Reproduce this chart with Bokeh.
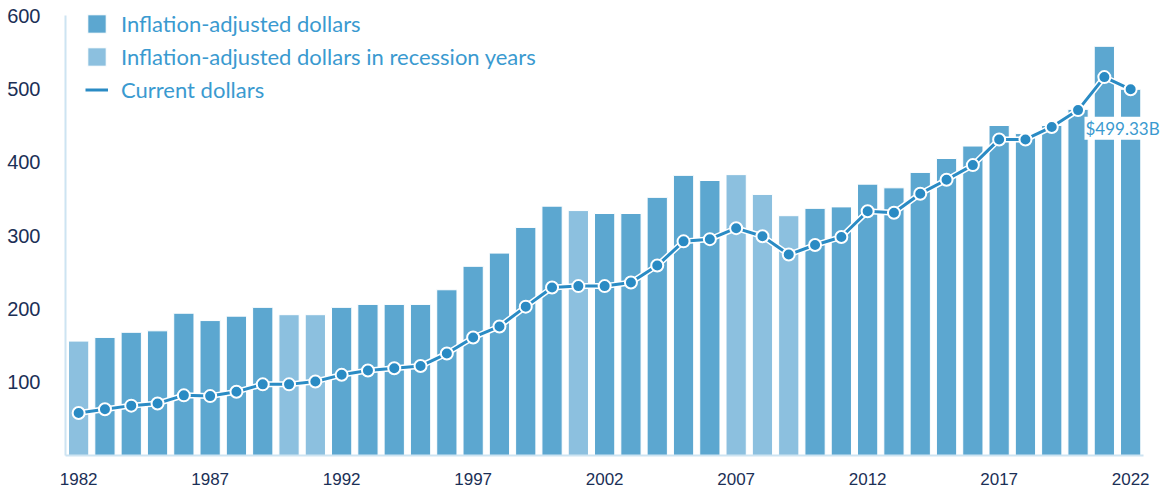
from bokeh.plotting import figure
from bokeh.models import (ColumnDataSource, FixedTicker, Legend, LegendItem, Label, Range1d)
from bokeh.embed import file_html
from bokeh.resources import INLINE

# ---- data (billions of dollars) ----
years = list(range(1982, 2023))
adjusted = [156, 161, 168, 170, 194, 184, 190, 202, 192, 192,
            202, 206, 206, 206, 226, 258, 276, 311, 340, 334,
            330, 330, 352, 382, 375, 383, 356, 327, 337, 339,
            370, 365, 386, 405, 422, 450, 439, 450, 472, 558,
            499.33]
current = [58, 63, 68, 71, 82, 81, 87, 97, 97, 101,
           110, 116, 119, 122, 139, 161, 176, 203, 229, 231,
           231, 236, 259, 292, 295, 310, 299, 274, 287, 298,
           333, 331, 357, 376, 396, 431, 431, 448, 471, 516,
           499.33]
recession_years = [1982, 1990, 1991, 2001, 2007, 2008, 2009]
x_ticks = [1982, 1987, 1992, 1997, 2002, 2007, 2012, 2017, 2022]
y_ticks = [100, 200, 300, 400, 500, 600]
annotation_text = "$499.33B"

DARK = "#5CA7D0"
LIGHT = "#8CC0DF"
LINE = "#2A8BC4"
TEXT_BLUE = "#3A9AD0"
NAVY = "#1B2F56"
AXIS = "#CDE4F2"

normal = {"x": [], "top": []}
recess = {"x": [], "top": []}
for y, v in zip(years, adjusted):
    d = recess if y in recession_years else normal
    d["x"].append(y)
    d["top"].append(v)

W, H = 1161, 488
LEFT, BOTTOM = 65, 33
px_per_year = 26.3
x_end = 1981.5 + (W - LEFT) / px_per_year
frame_h = H - BOTTOM
px_per_unit = 440 / 600.0
y_end = frame_h / px_per_unit

p = figure(width=W, height=H, output_backend="svg", toolbar_location=None,
           x_range=Range1d(1981.5, x_end), y_range=Range1d(0, y_end),
           min_border_left=LEFT, min_border_right=0, min_border_top=0,
           min_border_bottom=BOTTOM)
p.outline_line_color = None
p.background_fill_color = "white"
p.border_fill_color = "white"
p.xgrid.grid_line_color = None
p.ygrid.grid_line_color = None

r_norm = p.vbar(x="x", top="top", width=0.77, bottom=0, source=ColumnDataSource(normal),
                fill_color=DARK, line_color="white", line_width=1)
r_rec = p.vbar(x="x", top="top", width=0.77, bottom=0, source=ColumnDataSource(recess),
               fill_color=LIGHT, line_color="white", line_width=1)

src = ColumnDataSource({"x": years, "y": current})
p.line("x", "y", source=src, line_color="white", line_width=6)
r_line = p.line("x", "y", source=src, line_color=LINE, line_width=3)
p.scatter("x", "y", source=src, size=12, fill_color=LINE, line_color="white", line_width=2)

lab = Label(x=years[-1], y=current[-1], x_offset=30, y_offset=-39, text=annotation_text,
            text_align="right", text_baseline="middle", text_font="Lato",
            text_font_size="17px", text_color=TEXT_BLUE,
            background_fill_color="white", padding=1)
p.add_layout(lab)

for ax in (p.xaxis[0], p.yaxis[0]):
    ax.axis_line_color = AXIS
    ax.axis_line_width = 2
    ax.major_tick_line_color = None
    ax.minor_tick_line_color = None
    ax.major_label_text_color = NAVY
    ax.major_label_text_font = "Liberation Sans"

p.xaxis[0].ticker = FixedTicker(ticks=x_ticks)
p.xaxis[0].bounds = (1981.5, 2022.5)
p.xaxis[0].major_label_text_font_size = "17px"
p.xaxis[0].major_label_standoff = 11
p.yaxis[0].ticker = FixedTicker(ticks=y_ticks)
p.yaxis[0].bounds = (0, 600)
p.yaxis[0].major_label_text_font_size = "20px"
p.yaxis[0].major_label_standoff = 19

legend = Legend(items=[
    LegendItem(label="Inflation-adjusted dollars", renderers=[r_norm]),
    LegendItem(label="Inflation-adjusted dollars in recession years", renderers=[r_rec]),
    LegendItem(label="Current dollars", renderers=[r_line]),
], location=(20, 352), margin=0, padding=0, spacing=6,
    glyph_width=23, glyph_height=23, label_height=26, label_standoff=13,
    label_text_font="Lato", label_text_font_size="22px", label_text_color=TEXT_BLUE,
    border_line_color=None, background_fill_alpha=0)
p.add_layout(legend, "center")

open("out.html", "w").write(file_html(p, INLINE))
